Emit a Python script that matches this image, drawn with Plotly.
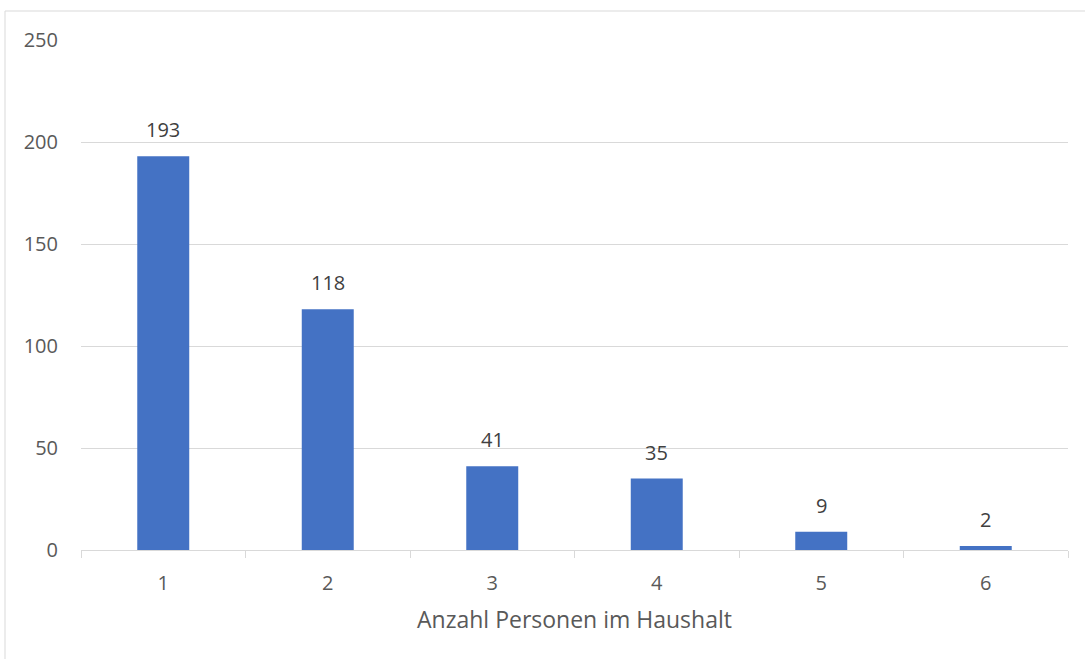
import plotly.graph_objects as go

kategorien = ["1", "2", "3", "4", "5", "6"]
anzahl = [193, 118, 41, 35, 9, 2]
y_ticks = [0, 50, 100, 150, 200, 250]
x_titel = "Anzahl Personen im Haushalt"

BLAU = "#4472c4"
GRAU = "#d9d9d9"
SCHRIFT = "Open Sans, Segoe UI, sans-serif"

# Plotbereich in Pixeln (Fenster 1085x659)
ml, mr, mt, mb = 81, 17, 40, 109
pw = 1085 - ml - mr
ph = 659 - mt - mb

fig = go.Figure()
fig.add_trace(go.Bar(
    x=kategorien, y=anzahl,
    marker=dict(color=BLAU, line=dict(width=0)),
    hoverinfo="x+y",
))

# Datenbeschriftungen über den Balken (x als Kategorie-Index)
for i, v in enumerate(anzahl):
    fig.add_annotation(x=i, y=v, text=str(v), showarrow=False,
                       yanchor="bottom", yshift=11,
                       font=dict(family=SCHRIFT, size=20, color="#404040"))

# Diagrammrahmen wie in Excel (rechts/unten außerhalb des Bildes)
fig.add_shape(type="rect", xref="paper", yref="paper", layer="below",
              x0=(5 - ml) / pw, x1=(1100 - ml) / pw,
              y0=(mt + ph - 680) / ph, y1=(mt + ph - 11) / ph,
              line=dict(color=GRAU, width=1), fillcolor="rgba(0,0,0,0)")

fig.update_layout(
    width=1085, height=659,
    margin=dict(l=ml, r=mr, t=mt, b=mb),
    paper_bgcolor="white", plot_bgcolor="white",
    bargap=0.684,
    showlegend=False,
    font=dict(family=SCHRIFT, size=20, color="#595959"),
    xaxis=dict(
        type="category",
        range=[-0.5, 5.5],
        showline=True, linecolor=GRAU, linewidth=1,
        ticks="outside", tickson="boundaries", ticklen=7, tickcolor=GRAU,
        ticklabelstandoff=15,
        showgrid=False,
        title=dict(text=x_titel, font=dict(size=23, color="#595959"), standoff=16),
    ),
    yaxis=dict(
        range=[0, 250], tickvals=y_ticks,
        showgrid=True, gridcolor=GRAU, gridwidth=1,
        zeroline=False, showline=False,
        ticklabelstandoff=22,
    ),
)

# Standardrand des <body> entfernen, damit die Figur bei (0,0) beginnt
fig.write_html("out.html", config={"displayModeBar": False},
               post_script="document.body.style.margin='0';")
